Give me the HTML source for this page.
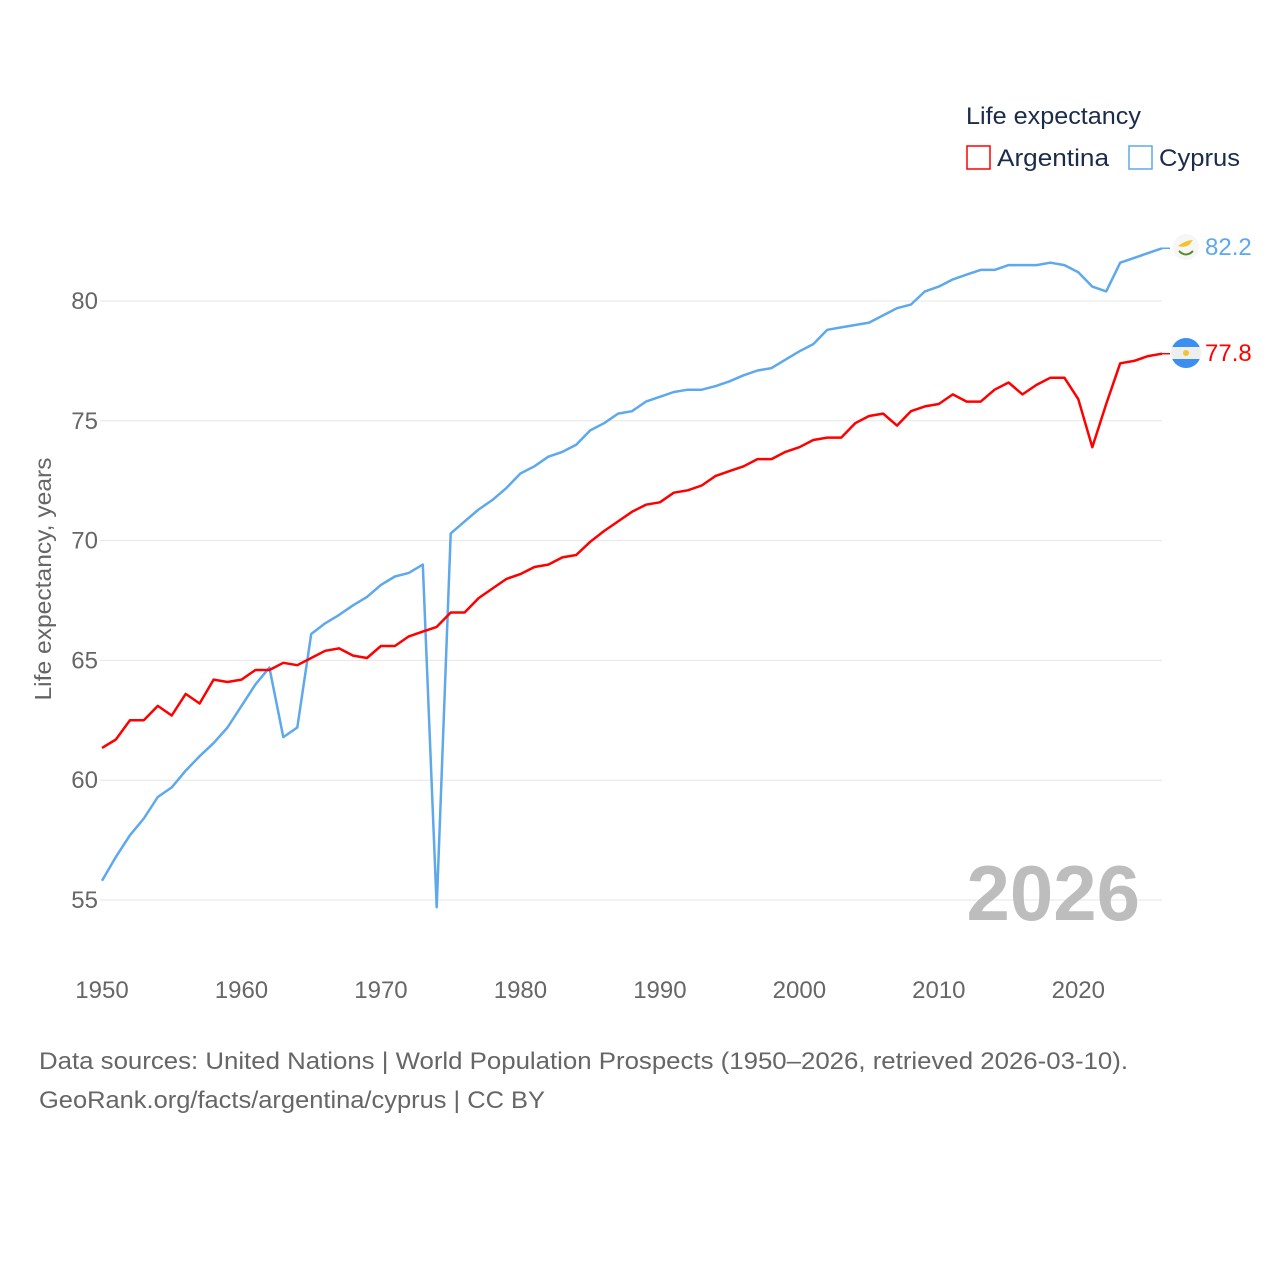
<!DOCTYPE html>
<html><head><meta charset="utf-8"><style>
html,body{margin:0;padding:0;background:#fff;}
body{width:1280px;height:1280px;overflow:hidden;font-family:"Liberation Sans",sans-serif;}
</style></head><body>
<svg id="chart" width="1280" height="1280" xmlns="http://www.w3.org/2000/svg" font-family="Liberation Sans, sans-serif">
<g id="grid"></g>
<g id="yticks"></g>
<g id="xticks"></g>
<text transform="translate(51,579) rotate(-90)" text-anchor="middle" font-size="23" fill="#666" textLength="243" lengthAdjust="spacingAndGlyphs">Life expectancy, years</text>
<text x="1140" y="920" text-anchor="end" font-size="78" font-weight="bold" fill="#bdbdbd">2026</text>
<g id="series"></g>
<g>
<text x="966" y="124" font-size="24" fill="#1c2b4a" textLength="175" lengthAdjust="spacingAndGlyphs">Life expectancy</text>
<g>
<rect x="967" y="146" width="23" height="23" fill="none" stroke="#ff0000" stroke-width="1.5"/>
<text x="997" y="166" font-size="24" fill="#1c2b4a" textLength="112" lengthAdjust="spacingAndGlyphs">Argentina</text></g>
<g>
<rect x="1129" y="146" width="23" height="23" fill="none" stroke="#5ea8ec" stroke-width="1.5"/>
<text x="1159" y="166" font-size="24" fill="#1c2b4a" textLength="81" lengthAdjust="spacingAndGlyphs">Cyprus</text></g>
</g>
<g>
<circle cx="1186" cy="247" r="13" fill="#f6f6f6"/>
<path d="M1178 246 q8 -6 15 -6 l-4 5 q-5 3 -11 1z" fill="#f2c230"/>
<path d="M1179 251 q7 7 14 0" stroke="#5b8a2e" stroke-width="2" fill="none"/>
</g>
<g>
<clipPath id="ac"><circle cx="1186" cy="353" r="15"/></clipPath>
<g clip-path="url(#ac)"><rect x="1170" y="337" width="32" height="32" fill="#eee"/>
<rect x="1170" y="337" width="32" height="10" fill="#3a8ff0"/>
<rect x="1170" y="359" width="32" height="10" fill="#3a8ff0"/></g>
<circle cx="1186" cy="353" r="3" fill="#f2c230"/>
</g>
<text x="1205" y="255" font-size="24" fill="#5ea8ec">82.2</text>
<text x="1205" y="361" font-size="24" fill="#ff0000">77.8</text>
<text x="39" y="1069" font-size="24" fill="#666" textLength="1089" lengthAdjust="spacingAndGlyphs">Data sources: United Nations | World Population Prospects (1950–2026, retrieved 2026-03-10).</text>
<text x="39" y="1108" font-size="24" fill="#666" textLength="506" lengthAdjust="spacingAndGlyphs">GeoRank.org/facts/argentina/cyprus | CC BY</text>
</svg>
<script>
const startYear = 1950;
const argentina = [61.35,61.7,62.5,62.5,63.1,62.7,63.6,63.2,64.2,64.1,64.2,64.6,64.6,64.9,64.8,65.1,65.4,65.5,65.2,65.1,65.6,65.6,66.0,66.2,66.4,67.0,67.0,67.6,68.0,68.4,68.6,68.9,69.0,69.3,69.4,69.95,70.4,70.8,71.2,71.5,71.6,72.0,72.1,72.3,72.7,72.9,73.1,73.4,73.4,73.7,73.9,74.2,74.3,74.3,74.9,75.2,75.3,74.8,75.4,75.6,75.7,76.1,75.8,75.8,76.3,76.6,76.1,76.5,76.8,76.8,75.9,73.9,75.7,77.4,77.5,77.7,77.8];
const cyprus = [55.8,56.8,57.7,58.4,59.3,59.7,60.4,61.0,61.55,62.2,63.1,64.0,64.7,61.8,62.2,66.1,66.55,66.9,67.3,67.65,68.15,68.5,68.65,69.0,54.7,70.3,70.8,71.3,71.7,72.2,72.8,73.1,73.5,73.7,74.0,74.6,74.9,75.3,75.4,75.8,76.0,76.2,76.3,76.3,76.45,76.65,76.9,77.1,77.2,77.55,77.9,78.2,78.8,78.9,79.0,79.1,79.4,79.7,79.85,80.4,80.6,80.9,81.1,81.3,81.3,81.5,81.5,81.5,81.6,81.5,81.2,80.6,80.4,81.6,81.8,82.0,82.2];
const yTicks = [55,60,65,70,75,80];
const xTicks = [1950,1960,1970,1980,1990,2000,2010,2020];
const NS = "http://www.w3.org/2000/svg";
function xs(yr){return 102 + (yr-1950)*(1162-102)/76;}
function ys(v){return 301 + (80-v)*23.96;}
function mk(tag,attrs,parent){const e=document.createElementNS(NS,tag);for(const k in attrs)e.setAttribute(k,attrs[k]);parent.appendChild(e);return e;}
const grid=document.getElementById('grid'), yt=document.getElementById('yticks'), xt=document.getElementById('xticks'), ser=document.getElementById('series');
yTicks.forEach(v=>{
  const l=mk('line',{x1:100,x2:1162,y1:ys(v),y2:ys(v),stroke:'#e6e6e6','stroke-width':1},grid);
  
  
  const t=mk('text',{x:98,y:ys(v)+8,'text-anchor':'end','font-size':24,fill:'#666'},yt);
  t.textContent=v;
  
  
});
xTicks.forEach(yr=>{
  const t=mk('text',{x:xs(yr),y:998,'text-anchor':'middle','font-size':24,fill:'#666'},xt);
  t.textContent=yr;
  
  
});
function line(data,color,name){
  const d=data.map((v,i)=>(i?'L':'M')+xs(startYear+i).toFixed(1)+' '+ys(v).toFixed(1)).join(' ');
  const p=mk('path',{d:d,fill:'none',stroke:color,'stroke-width':2.5,'stroke-linejoin':'round'},ser);
  
  
  const last=data[data.length-1];
  mk('line',{x1:xs(startYear+data.length-1),x2:xs(startYear+data.length-1)+8,y1:ys(last),y2:ys(last),stroke:color,'stroke-width':1.5},ser);
}
line(cyprus,'#5ea8ec','line-cyprus');
line(argentina,'#ff0000','line-argentina');
</script>
</body></html>
